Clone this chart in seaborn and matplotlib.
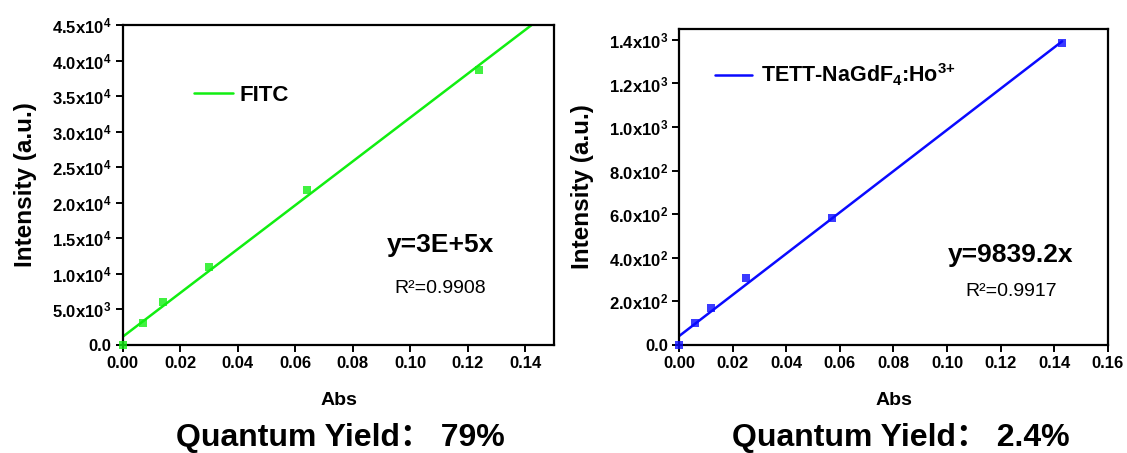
import numpy as np
import matplotlib
matplotlib.use("Agg")
import matplotlib.pyplot as plt
import seaborn as sns
import pandas as pd

# ---- data ----
fitc_abs = [0.0, 0.007, 0.014, 0.030, 0.064, 0.124]
fitc_int = [0.0, 3100, 6000, 11000, 21800, 38700]
tett_abs = [0.0, 0.006, 0.012, 0.025, 0.057, 0.143]
tett_int = [0.0, 100, 168, 308, 585, 1385]

left_yticks = [0, 5000, 10000, 15000, 20000, 25000, 30000, 35000, 40000, 45000]
left_yticklabels = ["0.0", "5.0x10$^3$", "1.0x10$^4$", "1.5x10$^4$", "2.0x10$^4$",
                    "2.5x10$^4$", "3.0x10$^4$", "3.5x10$^4$", "4.0x10$^4$", "4.5x10$^4$"]
left_xticks = [0.00, 0.02, 0.04, 0.06, 0.08, 0.10, 0.12, 0.14]
left_xticklabels = ["0.00", "0.02", "0.04", "0.06", "0.08", "0.10", "0.12", "0.14"]

right_yticks = [0, 200, 400, 600, 800, 1000, 1200, 1400]
right_yticklabels = ["0.0", "2.0x10$^2$", "4.0x10$^2$", "6.0x10$^2$", "8.0x10$^2$",
                     "1.0x10$^3$", "1.2x10$^3$", "1.4x10$^3$"]
right_xticks = [0.00, 0.02, 0.04, 0.06, 0.08, 0.10, 0.12, 0.14, 0.16]
right_xticklabels = ["0.00", "0.02", "0.04", "0.06", "0.08", "0.10", "0.12", "0.14", "0.16"]

left_label = "FITC"
right_label = "TETT-NaGdF$_4$:Ho$^{3{+}}$"
left_eq, left_r2 = "y=3E+5x", "R\u00b2=0.9908"
right_eq, right_r2 = "y=9839.2x", "R\u00b2=0.9917"
left_qy = "Quantum Yield\uff1a 79%"
right_qy = "Quantum Yield\uff1a 2.4%"

GREEN = "#11ee11"
BLUE = "#0a0aff"

sns.set_style("ticks")
plt.rcParams["font.family"] = ["Liberation Sans", "DejaVu Sans"]
plt.rcParams["text.color"] = "black"
plt.rcParams["axes.labelcolor"] = "black"
plt.rcParams["xtick.color"] = "black"
plt.rcParams["ytick.color"] = "black"
plt.rcParams["mathtext.fontset"] = "custom"
plt.rcParams["mathtext.rm"] = "Liberation Sans:bold"
plt.rcParams["mathtext.it"] = "Liberation Sans:bold"
plt.rcParams["mathtext.bf"] = "Liberation Sans:bold"
plt.rcParams["mathtext.sf"] = "Liberation Sans:bold"

NARROW = ["Liberation Sans Narrow", "Liberation Sans", "Noto Sans CJK SC", "DejaVu Sans"]

fig = plt.figure(figsize=(11.27, 4.53), dpi=100)
axL = fig.add_axes([0.1089, 0.2384, 0.3825, 0.7064])
axR = fig.add_axes([0.6027, 0.2384, 0.3801, 0.6976])


def style_axes(ax, xlim, ylim, xt, xtl, yt, ytl):
    ax.set_xlim(*xlim)
    ax.set_ylim(*ylim)
    ax.set_xticks(xt)
    ax.set_xticklabels(xtl, fontweight="bold", fontsize=12)
    ax.set_yticks(yt)
    ax.set_yticklabels(ytl, fontweight="bold", fontsize=12)
    for s in ax.spines.values():
        s.set_visible(True)
        s.set_linewidth(1.6)
        s.set_color("black")
    ax.tick_params(direction="out", length=5, width=1.4, colors="black", pad=3)


def labels(ax, ylx, xly):
    ax.set_ylabel("Intensity (a.u.)", fontsize=17.5, fontweight="bold", color="black")
    ax.set_xlabel("Abs", fontsize=14, fontweight="bold", color="black")
    ax.yaxis.set_label_coords(ylx, 0.5)
    ax.xaxis.set_label_coords(0.502, xly)


# Left panel
style_axes(axL, (0, 0.15), (0, 45000), left_xticks, left_xticklabels, left_yticks, left_yticklabels)
dfL = pd.DataFrame({"Abs": fitc_abs, "Intensity": fitc_int})
sns.regplot(data=dfL, x="Abs", y="Intensity", ax=axL, ci=None, truncate=False,
            marker="s", color=GREEN,
            scatter_kws={"s": 38, "zorder": 3, "linewidths": 0, "clip_on": False},
            line_kws={"linewidth": 1.8, "label": left_label})
axL.set_xlim(0, 0.15)
axL.set_ylim(0, 45000)
labels(axL, -0.2, -0.147)
axL.legend(loc="center left", bbox_to_anchor=(0.165, 0.78), frameon=False,
           handlelength=1.75, handletextpad=0.3, borderpad=0, borderaxespad=0,
           prop={"weight": "bold", "size": 16})
axL.text(0.737, 0.3125, left_eq, transform=axL.transAxes, ha="center", va="center",
         fontsize=19, fontweight="bold", family=NARROW)
axL.text(0.737, 0.178, left_r2, transform=axL.transAxes, ha="center", va="center",
         fontsize=14, family=NARROW)

# Right panel
style_axes(axR, (0, 0.16), (0, 1450), right_xticks, right_xticklabels, right_yticks, right_yticklabels)
dfR = pd.DataFrame({"Abs": tett_abs, "Intensity": tett_int})
sns.regplot(data=dfR, x="Abs", y="Intensity", ax=axR, ci=None, truncate=True,
            marker="s", color=BLUE,
            scatter_kws={"s": 38, "zorder": 3, "linewidths": 0, "clip_on": False},
            line_kws={"linewidth": 1.8, "label": right_label})
axR.set_xlim(0, 0.16)
axR.set_ylim(0, 1450)
labels(axR, -0.2, -0.149)
axR.legend(loc="center left", bbox_to_anchor=(0.083, 0.854), frameon=False,
           handlelength=1.75, handletextpad=0.4, borderpad=0, borderaxespad=0,
           prop={"weight": "bold", "size": 15.5})
axR.text(0.774, 0.285, right_eq, transform=axR.transAxes, ha="center", va="center",
         fontsize=19, fontweight="bold", family=NARROW)
axR.text(0.774, 0.168, right_r2, transform=axR.transAxes, ha="center", va="center",
         fontsize=14, family=NARROW)

fig.text(340 / 1127, 1 - 438 / 453, left_qy, ha="center", va="center",
         fontsize=23, fontweight="bold", family=NARROW)
fig.text(901 / 1127, 1 - 438 / 453, right_qy, ha="center", va="center",
         fontsize=23, fontweight="bold", family=NARROW)

fig.savefig("out.png", dpi=100, facecolor="white")
